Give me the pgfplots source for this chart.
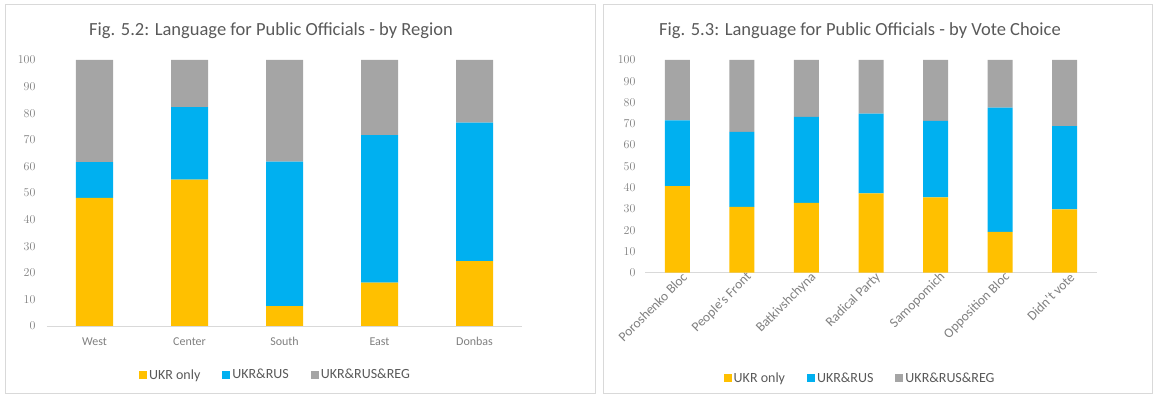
\documentclass[border=0pt]{standalone}
\usepackage{pgfplots}
\pgfplotsset{compat=1.18}
\usepackage{pgfplotstable}
\usepackage{fontspec}
\setmainfont{Carlito}
\definecolor{cY}{HTML}{FFC000}
\definecolor{cB}{HTML}{00B0F0}
\definecolor{cG}{HTML}{A5A5A5}
\definecolor{txt}{HTML}{595959}
\definecolor{tickc}{HTML}{7F7F7F}
\definecolor{framec}{HTML}{D9D9D9}

\pgfplotstableread{
x ukr ukrrus ukrrusreg
0 48.2 13.4 38.4
1 55.0 27.3 17.7
2 7.5 54.3 38.2
3 16.3 55.5 28.2
4 24.4 52.1 23.5
}\region

\pgfplotstableread{
x ukr ukrrus ukrrusreg
0 40.7 30.9 28.4
1 31.0 35.2 33.8
2 32.8 40.4 26.8
3 37.3 37.5 25.2
4 35.4 36.0 28.6
5 19.2 58.4 22.4
6 29.8 39.1 31.1
}\vote

\pgfplotsset{
  panel/.style={
    scale only axis,
    ybar stacked,
    ymin=0, ymax=100,
    ytick={0,10,...,100},
    axis x line*=bottom,
    axis y line*=left,
    y axis line style={draw=none},
    x axis line style={draw=framec, line width=0.9pt},
    major tick length=0pt,
    tick style={draw=none},
    xtick=data,
    ticklabel style={font=\fontsize{12}{14}\selectfont, text=tickc},
    legend columns=3,
    legend style={draw=none, fill=none, font=\fontsize{14}{16}\selectfont, text=txt,
      /tikz/every even column/.append style={column sep=20pt}},
    legend image code/.code={\path[##1] (0pt,-4pt) rectangle (8pt,4pt);},
  },
}

\begin{document}
\begin{tikzpicture}[x=1pt,y=1pt]
\useasboundingbox (0,0) rectangle (1154,398);
\draw[framec, line width=0.8pt] (5,5) rectangle (595,394);
\draw[framec, line width=0.8pt] (603,5) rectangle (1152,394);
\node[text=txt, font=\fontsize{18.5}{21}\selectfont] at (271,367) {Fig. 5.2: Language for Public Officials - by Region};
\node[text=txt, font=\fontsize{18.5}{21}\selectfont] at (860,367) {Fig. 5.3: Language for Public Officials - by Vote Choice};

\begin{axis}[panel,
  at={(47pt,72pt)}, anchor=south west,
  width=475pt, height=266pt,
  xmin=-0.5, xmax=4.5,
  bar width=37pt,
  xticklabels={West,Center,South,East,Donbas},
  xticklabel style={yshift=-8pt},
  yticklabel style={xshift=-8pt},
  legend style={at={(0.481,-0.184)}, anchor=center},
]
\addplot[fill=cY, draw=none] table[x=x,y=ukr]{\region};
\addplot[fill=cB, draw=none] table[x=x,y=ukrrus]{\region};
\addplot[fill=cG, draw=none] table[x=x,y=ukrrusreg]{\region};
\legend{UKR only, UKR\&RUS, UKR\&RUS\&REG}
\end{axis}

\begin{axis}[panel,
  at={(645pt,125.3pt)}, anchor=south west,
  width=452pt, height=212.7pt,
  xmin=-0.5, xmax=6.5,
  bar width=25pt,
  xticklabels={Poroshenko Bloc,People's Front,Batkivshchyna,Radical Party,Samopomich,Opposition Bloc,Didn't vote},
  xticklabel style={rotate=45, anchor=east, font=\fontsize{13.5}{15}\selectfont, yshift=-7pt, xshift=7pt},
  yticklabel style={xshift=-6pt},
  legend style={at={(0.476,-0.495)}, anchor=center},
]
\addplot[fill=cY, draw=none] table[x=x,y=ukr]{\vote};
\addplot[fill=cB, draw=none] table[x=x,y=ukrrus]{\vote};
\addplot[fill=cG, draw=none] table[x=x,y=ukrrusreg]{\vote};
\legend{UKR only, UKR\&RUS, UKR\&RUS\&REG}
\end{axis}
\end{tikzpicture}
\end{document}
